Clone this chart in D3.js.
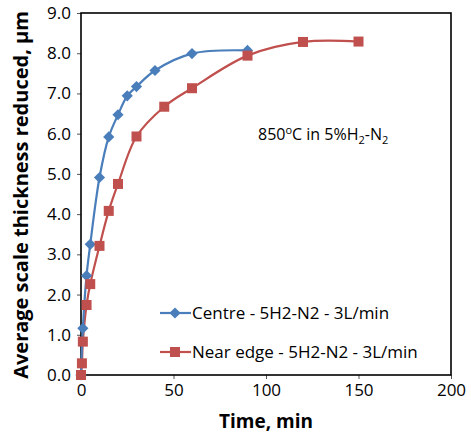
<!DOCTYPE html>
<html><head><meta charset="utf-8">
<script src="https://cdn.jsdelivr.net/npm/d3@7"></script>
<style>body{margin:0;background:#fff}svg{display:block}text{font-family:"Open Sans","Noto Sans",sans-serif}</style>
</head><body>
<svg id="c" width="471" height="437"></svg>
<script>
const centreTime = [0, 1, 3, 5, 10, 15, 20, 25, 30, 40, 60, 90];
const centreValue = [0, 1.16, 2.47, 3.25, 4.91, 5.92, 6.47, 6.94, 7.17, 7.57, 7.99, 8.07];
const edgeTime = [0, 0.5, 1, 3, 5, 10, 15, 20, 30, 45, 60, 90, 120, 150];
const edgeValue = [0, 0.29, 0.83, 1.74, 2.26, 3.21, 4.08, 4.75, 5.93, 6.67, 7.13, 7.94, 8.28, 8.29];
const xTicks = [0, 50, 100, 150, 200];
const yTicks = [0, 1, 2, 3, 4, 5, 6, 7, 8, 9];
const seriesNames = ["Centre - 5H2-N2 - 3L/min", "Near edge - 5H2-N2 - 3L/min"];

const svg = d3.select("#c");
const L = 81, R = 451, T = 13, B = 375;
const x = d3.scaleLinear().domain([0, 200]).range([L, R]);
const y = d3.scaleLinear().domain([0, 9]).range([B, T]);

const xa = svg.append("g").attr("transform", `translate(0,${B})`)
  .call(d3.axisBottom(x).tickValues(xTicks).tickSize(4).tickPadding(5));
const ya = svg.append("g").attr("transform", `translate(${L},0)`)
  .call(d3.axisLeft(y).tickValues(yTicks).tickFormat(d3.format(".1f")).tickSize(4).tickPadding(6));
[xa, ya].forEach(a => {
  a.selectAll("text").attr("font-size", 17).attr("fill", "#000").attr("font-family", "'Open Sans',sans-serif");
  a.selectAll("line").attr("stroke", "#555").attr("stroke-width", 1);
  a.select(".domain").remove();
});
svg.append("rect").attr("x", L).attr("y", T).attr("width", R - L).attr("height", B - T)
  .attr("fill", "none").attr("stroke", "#000").attr("stroke-width", 1.6);

const line = d3.line().x(d => x(d[0])).y(d => y(d[1])).curve(d3.curveCatmullRom.alpha(0.5));
const centre = centreTime.map((t, i) => [t, centreValue[i]]);
const edge = edgeTime.map((t, i) => [t, edgeValue[i]]);
const blue = "#4A7EBB", red = "#C0504D";

svg.append("path").datum(edge).attr("d", line).attr("fill", "none").attr("stroke", red).attr("stroke-width", 2.2);
svg.append("path").datum(centre).attr("d", line).attr("fill", "none").attr("stroke", blue).attr("stroke-width", 2.2);

const diamond = d3.symbol().type(d3.symbolDiamond2).size(80);
svg.append("g").selectAll("path").data(centre).join("path")
  .attr("d", diamond).attr("transform", d => `translate(${x(d[0])},${y(d[1])})`).attr("fill", blue);
svg.append("g").selectAll("rect").data(edge).join("rect")
  .attr("x", d => x(d[0]) - 5).attr("y", d => y(d[1]) - 5).attr("width", 10).attr("height", 10).attr("fill", red);

// Legend
const lg = svg.append("g");
[[blue, 313], [red, 352]].forEach(([c, yy], i) => {
  lg.append("line").attr("x1", 160).attr("x2", 191).attr("y1", yy).attr("y2", yy).attr("stroke", c).attr("stroke-width", 2.2);
  if (i === 0) lg.append("path").attr("d", diamond).attr("transform", `translate(175,${yy})`).attr("fill", c);
  else lg.append("rect").attr("x", 170).attr("y", yy - 5).attr("width", 10).attr("height", 10).attr("fill", c);
  lg.append("text").attr("x", 192).attr("y", yy).attr("dy", "0.35em").attr("font-size", 17).text(seriesNames[i]);
});

// Annotation
const ann = svg.append("text").attr("x", 258).attr("y", 140).attr("font-size", 16);
ann.append("tspan").text("850");
ann.append("tspan").attr("dy", -6).attr("font-size", 11).text("o");
ann.append("tspan").attr("dy", 6).text("C in 5%H");
ann.append("tspan").attr("dy", 4).attr("font-size", 11).text("2");
ann.append("tspan").attr("dy", -4).text("-N");
ann.append("tspan").attr("dy", 4).attr("font-size", 11).text("2");

// Axis titles
svg.append("text").attr("x", 266).attr("y", 428).attr("text-anchor", "middle")
  .attr("font-size", 19).attr("font-weight", "bold").text("Time, min");
svg.append("text").attr("transform", "translate(28,195) rotate(-90)").attr("text-anchor", "middle")
  .attr("font-size", 20).attr("font-weight", "bold").text("Average scale thickness reduced, μm");
</script>
</body></html>
